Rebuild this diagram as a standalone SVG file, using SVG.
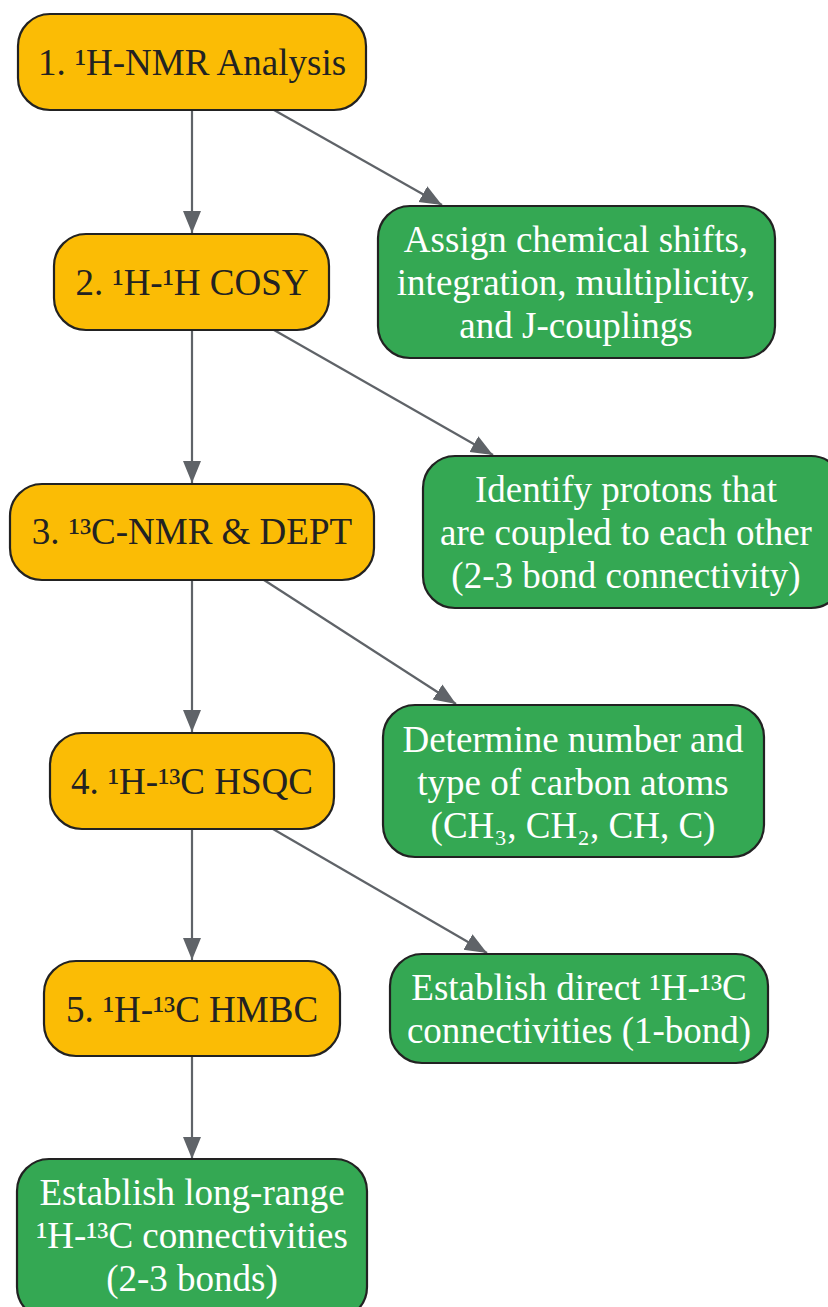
<svg xmlns="http://www.w3.org/2000/svg" width="828" height="1307" viewBox="0 0 828 1307">
<defs>
<marker id="arr" markerUnits="userSpaceOnUse" markerWidth="24" markerHeight="24" viewBox="0 0 24 24" refX="22" refY="12" orient="auto">
<path d="M0,3 L22,12 L0,21 Z" fill="#5f6368"/>
</marker>
<style>
.step rect{fill:#fbbc05;stroke:#222222;stroke-width:2.2}
.info rect{fill:#34a853;stroke:#222222;stroke-width:2.2}
text{font-family:"Liberation Serif","Times New Roman",serif;font-size:37px;text-anchor:middle}
.step text{fill:#222222}
.info text{fill:#ffffff}
.edges line{stroke:#5f6368;stroke-width:2.2;marker-end:url(#arr)}
</style>
</defs>
<rect width="828" height="1307" fill="#ffffff"/>
<g class="edges">
<line x1="192" y1="110" x2="192" y2="233"/>
<line x1="274" y1="110" x2="442" y2="205"/>
<line x1="192" y1="330" x2="192" y2="483"/>
<line x1="274" y1="330" x2="493" y2="455"/>
<line x1="192" y1="580" x2="192" y2="732"/>
<line x1="264" y1="580" x2="456" y2="704"/>
<line x1="192" y1="829" x2="192" y2="960"/>
<line x1="273" y1="829" x2="487" y2="953"/>
<line x1="192" y1="1056" x2="192" y2="1159"/>
</g>
<g id="n1" class="step"><rect x="18" y="14" width="348" height="96" rx="32"/><text x="192" y="75">1. ¹H-NMR Analysis</text></g>
<g id="n2" class="step"><rect x="54" y="234" width="275" height="96" rx="32"/><text x="192" y="295">2. ¹H-¹H COSY</text></g>
<g id="n3" class="step"><rect x="10" y="484" width="364" height="96" rx="32"/><text x="192" y="544">3. ¹³C-NMR &amp; DEPT</text></g>
<g id="n4" class="step"><rect x="50" y="733" width="284" height="96" rx="32"/><text x="192" y="794">4. ¹H-¹³C HSQC</text></g>
<g id="n5" class="step"><rect x="44" y="961" width="296" height="95" rx="32"/><text x="192" y="1022">5. ¹H-¹³C HMBC</text></g>
<g id="a1" class="info"><rect x="378" y="206" width="397" height="152" rx="32"/><text x="576" y="252">Assign chemical shifts,</text><text x="576" y="295">integration, multiplicity,</text><text x="576" y="338">and J-couplings</text></g>
<g id="a2" class="info"><rect x="423" y="456" width="420" height="152" rx="32"/><text x="626" y="502">Identify protons that</text><text x="626" y="545">are coupled to each other</text><text x="626" y="588">(2-3 bond connectivity)</text></g>
<g id="a3" class="info"><rect x="383" y="705" width="381" height="152" rx="32"/><text x="573" y="752">Determine number and</text><text x="573" y="795">type of carbon atoms</text><text x="573" y="838">(CH₃, CH₂, CH, C)</text></g>
<g id="a4" class="info"><rect x="390" y="954" width="378" height="109" rx="32"/><text x="579" y="1000">Establish direct ¹H-¹³C</text><text x="579" y="1043">connectivities (1-bond)</text></g>
<g id="a5" class="info"><rect x="17" y="1159" width="350" height="160" rx="32"/><text x="192" y="1205">Establish long-range</text><text x="192" y="1248">¹H-¹³C connectivities</text><text x="192" y="1291">(2-3 bonds)</text></g>
</svg>
